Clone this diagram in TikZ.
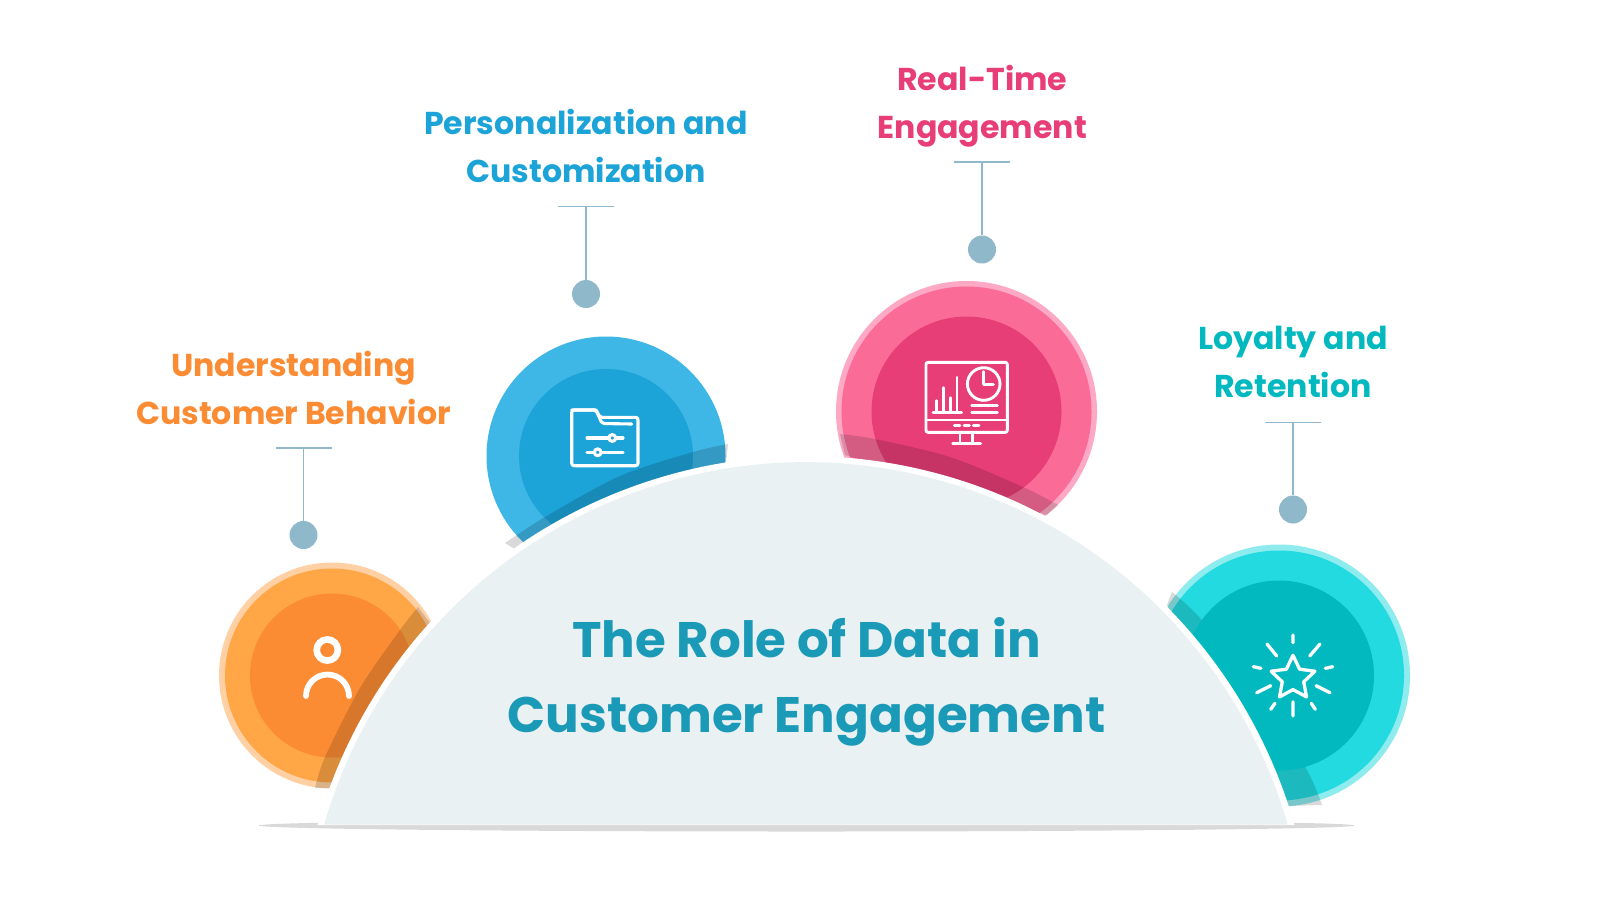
\documentclass[tikz,border=0pt]{standalone}
\usepackage{fontspec}
\setmainfont{Poppins}
\definecolor{oPale}{HTML}{FFD0A4}\definecolor{oMid}{HTML}{FFA646}\definecolor{oIn}{HTML}{FC8C34}
\definecolor{bMid}{HTML}{3EB6E6}\definecolor{bIn}{HTML}{1CA3D8}
\definecolor{pPale}{HTML}{FDA8C4}\definecolor{pMid}{HTML}{FA6B98}\definecolor{pIn}{HTML}{E83E77}
\definecolor{tPale}{HTML}{8EEBEE}\definecolor{tMid}{HTML}{22DAE0}\definecolor{tIn}{HTML}{02B9C0}
\definecolor{domeC}{HTML}{EAF1F3}\definecolor{titleC}{HTML}{1B9AB8}\definecolor{linkC}{HTML}{8FB9CB}
\tikzset{
 disc/.style={circle,inner sep=0pt,outer sep=0pt,minimum size=#1},
 band/.style={fill=black,fill opacity=.15,draw=none},
 link/.style={draw=linkC,line width=1.8pt},
 dot/.style={circle,fill=linkC,inner sep=0pt,minimum size=28pt},
 label/.style={font=\fontsize{31.6}{47.6}\selectfont\bfseries,align=center,inner sep=0pt},
 title/.style={font=\fontsize{49.9}{75}\selectfont\bfseries,align=center,inner sep=0pt,text=titleC},
 icon/.style={draw=white,line cap=round,line join=round,fill=none},
}
\begin{document}
\begin{tikzpicture}[x=1pt,y=-1pt]
\useasboundingbox[fill=white] (0,0) rectangle (1600,900);
% base shadow
\fill[black!15] (806.5,825.5) ellipse [x radius=548,y radius=6];
% discs
\node[disc=226pt,fill=oPale] (oA) at (332,675.5) {};
\node[disc=214pt,fill=oMid] (oB) at (332,675.5) {};
\node[disc=164pt,fill=oIn] (oC) at (332,675.5) {};
\node[disc=239pt,fill=bMid] (bB) at (606,456) {};
\node[disc=174pt,fill=bIn] (bC) at (606,456) {};
\node[disc=261pt,fill=pPale] (pA) at (966.5,411.5) {};
\node[disc=250pt,fill=pMid] (pB) at (966.5,411.5) {};
\node[disc=190pt,fill=pIn] (pC) at (966.5,411.5) {};
\node[disc=262pt,fill=tPale] (tA) at (1279,675.5) {};
\node[disc=250pt,fill=tMid] (tB) at (1279,675.5) {};
% shadow bands
\fill[band] (430,623) -- (418,607) -- plot[smooth] coordinates {(418,607) (400,630) (360,688) (325,757) (315,788)} -- (332,788) -- cycle;
\fill[band] (515,549) -- (505,543) -- plot[smooth] coordinates {(505,543) (545,517) (620,476) (693,452) (728,444)} -- (726,462) -- cycle;
\fill[band] (845,455) -- (840,434) -- plot[smooth] coordinates {(840,434) (875,439) (950,457) (1023,487) (1058,505)} -- (1047,515) -- cycle;
\fill[band] (1167,605) -- (1172,592) -- plot[smooth] coordinates {(1172,592) (1200,618) (1260,690) (1307,770) (1322,805)} -- (1287,806) -- cycle;
\node[disc=190pt,fill=tIn] (tC) at (1279,675.5) {};
% dome
\fill[white] (317.4,825) arc[start angle=-164.1,end angle=-15.9,radius=508] -- cycle;
\fill[domeC] (324.2,824.5) arc[start angle=-163.88,end angle=-16.12,radius=501.5] -- cycle;
% person icon
\draw[icon,line width=6.6pt] (327.3,650) circle[radius=10.6];
\draw[icon,line width=5.8pt] (306,696) arc[start angle=180,end angle=360,radius=21.5];
% folder icon
\draw[icon,line width=3.1pt,rounded corners=2pt] (571.7,410) -- (596,410) -- (602,423.5) -- (631.7,424);
\draw[icon,line width=3.1pt,rounded corners=2.5pt] (596,410) -- (600,417.3) -- (638,417.3) -- (638,465.7) -- (571.7,465.7) -- (571.7,410) -- (596,410);
\draw[icon,line width=3.1pt] (587,438) -- (623,438) (587,452.3) -- (623,452.3);
\draw[icon,line width=3.1pt,fill=bIn] (612.3,438) circle[radius=3.4];
\draw[icon,line width=3.1pt,fill=bIn] (597.7,452.3) circle[radius=3.4];
% monitor icon
\draw[icon,line width=2.9pt,rounded corners=2pt] (926,362.3) rectangle (1007.3,432.3);
\draw[icon,line width=2.9pt] (926,420) -- (1007.3,420);
\draw[icon,line width=2.9pt] (954.3,425.7) -- (960,425.7) (964,425.7) -- (969.3,425.7) (973.3,425.7) -- (979,425.7);
\draw[icon,line width=2.9pt] (960,432.3) -- (960,443.3) (972.7,432.3) -- (972.7,443.3) (952.7,443.3) -- (980.7,443.3);
\draw[icon,line width=2.9pt] (933,412.3) -- (961.7,412.3) (936.7,412.3) -- (936.7,400.7) (943.3,412.3) -- (943.3,387.7) (950.3,412.3) -- (950.3,397.7) (957,412.3) -- (957,377.3);
\draw[icon,line width=2.9pt] (983.7,384) circle[radius=16.3];
\draw[icon,line width=2.9pt] (983.7,371.7) -- (983.7,384.3) -- (993.3,384.3);
\draw[icon,line width=2.9pt] (971.7,405.7) -- (997.3,405.7) (971.7,412.3) -- (997.3,412.3);
% star icon
\draw[icon,line width=3.3pt] (1293,655.3) -- (1299.6,669.2) -- (1314.9,671.2) -- (1303.7,681.8) -- (1306.5,696.9) -- (1293,689.6) -- (1279.5,696.9) -- (1282.3,681.8) -- (1271.1,671.2) -- (1286.4,669.2) -- cycle;
\draw[icon,line width=3.3pt] (1293,635) -- (1293,642.7) (1267,644) -- (1276.7,656) (1320,644) -- (1309.7,656) (1253.3,666.7) -- (1261,668.3) (1332.7,666.7) -- (1325.3,668.3) (1256.7,692.7) -- (1270.7,685.7) (1330,692.7) -- (1316,685.7) (1270.7,709.3) -- (1275,703.3) (1315.3,709.3) -- (1311.3,703.3) (1293,701.7) -- (1293,716);
% connectors
\coordinate (oL) at (276,448);\coordinate (oR) at (332,448);\coordinate (oM) at (303.5,448);
\node[dot] (oDot) at (303.5,535) {};
\draw[link] (oL) -- (oR);\draw[link] (oM) -- (oDot);
\coordinate (bL) at (558,206.5);\coordinate (bR) at (613.5,206.5);\coordinate (bM) at (586,206.5);
\node[dot] (bDot) at (586,294) {};
\draw[link] (bL) -- (bR);\draw[link] (bM) -- (bDot);
\coordinate (pL) at (954,162);\coordinate (pR) at (1010,162);\coordinate (pM) at (982,162);
\node[dot] (pDot) at (982,249.5) {};
\draw[link] (pL) -- (pR);\draw[link] (pM) -- (pDot);
\coordinate (tL) at (1265,422.5);\coordinate (tR) at (1321,422.5);\coordinate (tM) at (1293,422.5);
\node[dot] (tDot) at (1293,509.5) {};
\draw[link] (tL) -- (tR);\draw[link] (tM) -- (tDot);
% labels
\node[label,text=oIn] (oText) at (293.5,388) {Understanding\\Customer Behavior};
\node[label,text=bIn] (bText) at (586,146) {Personalization and\\Customization};
\node[label,text=pIn] (pText) at (982.3,106.2) {Real-Time\\Engagement};
\node[label,text=tIn] (tText) at (1293,362.2) {Loyalty and\\Retention};
\node[title] (main) at (806.5,681.5) {The Role of Data in\\Customer Engagement};
\end{tikzpicture}
\end{document}
